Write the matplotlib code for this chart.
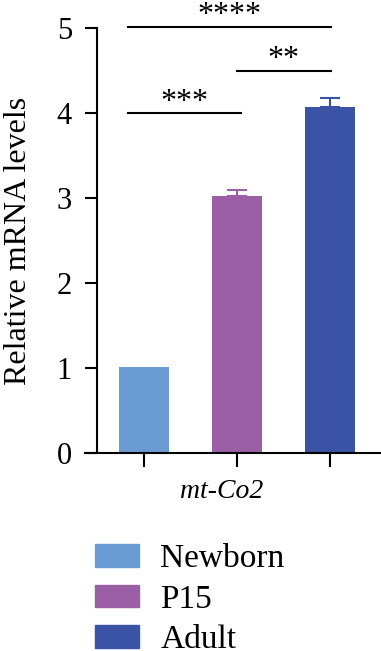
import matplotlib.pyplot as plt
from matplotlib.patches import Patch

groups = ["Newborn", "P15", "Adult"]
values = [1.01, 3.02, 4.07]
errors = [0.0, 0.08, 0.11]
colors = ["#6A9BD2", "#9B5FA5", "#3A53A4"]
gene = "mt-Co2"
yticks = [0, 1, 2, 3, 4, 5]
# (left group, right group, line height, stars)
comparisons = [(0, 2, 5.015, "****"), (0, 1, 4.0, "***"), (1, 2, 4.5, "**")]

plt.rcParams["font.family"] = ["Liberation Serif", "DejaVu Serif"]


def main():
    fig = plt.figure(figsize=(3.81, 6.51), dpi=100)
    ax = fig.add_axes([85 / 381, 198 / 651, 296 / 381, 425 / 651])

    x = range(len(groups))
    ax.bar(x, values, width=0.54, color=colors)
    for xi, v, e, c in zip(x, values, errors, colors):
        if e > 0:
            ax.errorbar(xi, v, yerr=[[0], [e]], color=c, capsize=7.5,
                        elinewidth=1.5, capthick=1.5)

    ax.set_xlim(-0.634, 2.55)
    ax.set_ylim(0, 5)
    ax.set_yticks(yticks)
    ax.set_xticks(list(x))
    ax.set_xticklabels([])
    ax.spines["left"].set_position(("data", -0.505))
    ax.spines["top"].set_visible(False)
    ax.spines["right"].set_visible(False)
    for s in ("left", "bottom"):
        ax.spines[s].set_linewidth(1.5)
    ax.tick_params(axis="y", length=9, width=1.5, labelsize=22, pad=9)
    ax.tick_params(axis="x", length=10, width=1.5)
    ax.set_ylabel("Relative mRNA levels", fontsize=23, labelpad=17)

    for a, b, h, stars in comparisons:
        x0 = a - 0.17
        x1 = b + 0.01 if b == 2 else b + 0.04
        if a == 1:
            x0 = a
        ax.plot([x0, x1], [h, h], color="black", lw=1.5, clip_on=False)
        ax.text((x0 + x1) / 2, h + 0.04, stars, ha="center", va="baseline",
                fontsize=23, clip_on=False)

    fig.text(222 / 381, 1 - 491 / 651, gene, style="italic", fontsize=20,
             ha="center", va="center")

    handles = [Patch(color=c) for c in colors]
    fig.legend(handles, groups, loc="upper left",
               bbox_to_anchor=(78 / 381, 1 - 527 / 651), frameon=False,
               fontsize=24, handlelength=1.33, handleheight=0.67,
               labelspacing=0.3, handletextpad=0.64, borderpad=0)

    fig.savefig("out.png", dpi=100)
    plt.close(fig)


if __name__ == "__main__":
    main()
